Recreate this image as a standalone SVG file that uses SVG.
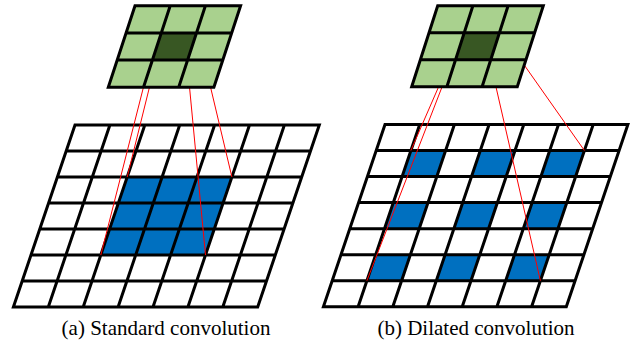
<svg xmlns="http://www.w3.org/2000/svg" width="636" height="345" viewBox="0 0 636 345">
  <style>
    .cell { fill: #ffffff; }
    .hot { fill: #0070c0; }
    .k { fill: #a9d18e; }
    .kc { fill: #385723; }
    .lines { fill: none; stroke: #000000; stroke-width: 3; vector-effect: non-scaling-stroke; }
    .link { stroke: #ff0000; stroke-width: 1; fill: none; }
    .cap { font-family: "Liberation Serif", "Times New Roman", serif; font-size: 21px; fill: #000000; text-anchor: middle; }
  </style>
  <defs>
    <!-- unit-cell line sets; groups below skew/scale them into parallelogram grids -->
    <path id="grid7" class="lines" vector-effect="non-scaling-stroke" d="M0 0H7V7H0ZM0 1H7M0 2H7M0 3H7M0 4H7M0 5H7M0 6H7M1 0V7M2 0V7M3 0V7M4 0V7M5 0V7M6 0V7"/>
    <path id="grid3" class="lines" vector-effect="non-scaling-stroke" d="M0 0H3V3H0ZM0 1H3M0 2H3M1 0V3M2 0V3"/>
  </defs>

  <!-- input feature map, standard convolution -->
  <g id="input-a" transform="matrix(34.9 0 -8.8 26 75 125)">
    <rect class="cell" x="0" y="0" width="7" height="7"/>
    <rect class="hot" x="2" y="2" width="3" height="3"/>
    <use href="#grid7"/>
  </g>

  <!-- input feature map, dilated convolution -->
  <g id="input-b" transform="matrix(34.7 0 -8.8 26.06 385 124.4)">
    <rect class="cell" x="0" y="0" width="7" height="7"/>
    <rect class="hot" x="1" y="1" width="1" height="1"/>
    <rect class="hot" x="3" y="1" width="1" height="1"/>
    <rect class="hot" x="5" y="1" width="1" height="1"/>
    <rect class="hot" x="1" y="3" width="1" height="1"/>
    <rect class="hot" x="3" y="3" width="1" height="1"/>
    <rect class="hot" x="5" y="3" width="1" height="1"/>
    <rect class="hot" x="1" y="5" width="1" height="1"/>
    <rect class="hot" x="3" y="5" width="1" height="1"/>
    <rect class="hot" x="5" y="5" width="1" height="1"/>
    <use href="#grid7"/>
  </g>

  <!-- receptive-field projection lines -->
  <g id="connectors">
    <line class="link" x1="143.5" y1="87" x2="100.8" y2="255"/>
    <line class="link" x1="149.5" y1="87" x2="127.2" y2="177"/>
    <line class="link" x1="189.5" y1="87" x2="205.5" y2="255"/>
    <line class="link" x1="210.5" y1="87" x2="231.9" y2="177"/>
    <line class="link" x1="438.5" y1="87" x2="410.9" y2="150.5"/>
    <line class="link" x1="442" y1="87" x2="366.9" y2="280.7"/>
    <line class="link" x1="496" y1="87" x2="540.4" y2="280.7"/>
    <line class="link" x1="523.5" y1="64" x2="584.4" y2="150.5"/>
  </g>

  <!-- 3x3 kernels -->
  <g id="kernel-a" transform="matrix(35.2 0 -8.9 27.2 135 5.7)">
    <rect class="k" x="0" y="0" width="3" height="3"/>
    <rect class="kc" x="1" y="1" width="1" height="1"/>
    <use href="#grid3"/>
  </g>
  <g id="kernel-b" transform="matrix(35.2 0 -8.67 27 437.7 5.7)">
    <rect class="k" x="0" y="0" width="3" height="3"/>
    <rect class="kc" x="1" y="1" width="1" height="1"/>
    <use href="#grid3"/>
  </g>

  <!-- captions -->
  <g id="captions">
    <text class="cap" x="166" y="335">(a) Standard convolution</text>
    <text class="cap" x="476" y="335">(b) Dilated convolution</text>
  </g>
</svg>
